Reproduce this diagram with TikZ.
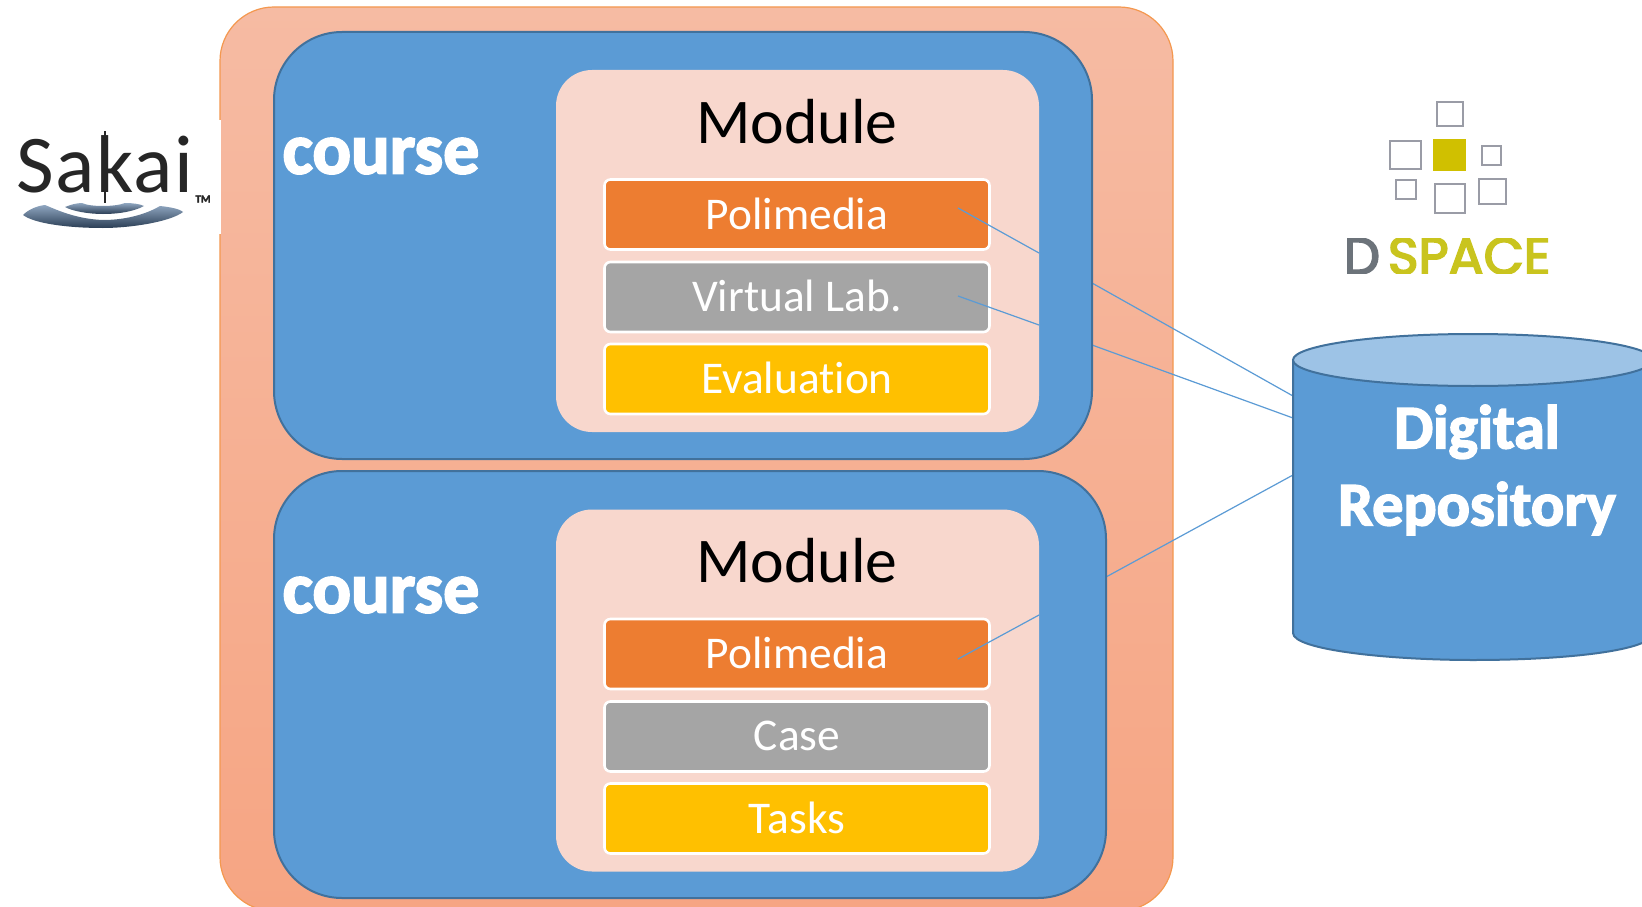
\documentclass[tikz,border=0pt]{standalone}
\usepackage{fontspec}
\setmainfont{Carlito}[Ligatures=NoCommon,BoldFeatures={FakeBold=2.6}]
\newfontfamily\dsfont[FakeBold=3.5]{Poppins}
\newfontfamily\skfont[LetterSpace=2]{Carlito}
\usetikzlibrary{shapes.geometric}
\definecolor{cblue}{HTML}{5B9BD5}
\definecolor{cedge}{HTML}{41719C}
\definecolor{ctop}{HTML}{9DC3E6}
\definecolor{cmod}{HTML}{F8D7CD}
\definecolor{corange}{HTML}{ED7D31}
\definecolor{cgray}{HTML}{A5A5A5}
\definecolor{cyellow}{HTML}{FFC000}
\definecolor{dsy}{HTML}{C9C41E}
\definecolor{dsc}{HTML}{D0C000}
\definecolor{dsg}{HTML}{6C737A}
\definecolor{dsbox}{HTML}{9A9CA6}
\definecolor{ptop}{HTML}{F6BBA3}
\definecolor{pbot}{HTML}{F6A583}
\definecolor{pedge}{HTML}{F4984F}
\definecolor{skdark}{HTML}{2B3E55}
\definecolor{sklite}{HTML}{8FA6C0}
\newcommand{\bartext}[1]{\raisebox{1.8pt}{#1}}
\tikzset{
  box/.style={rectangle,rounded corners=#1,inner sep=0pt,outer sep=0pt},
  coursebox/.style={box=68pt,fill=cblue,draw=cedge,line width=2pt},
  modulebox/.style={box=36pt,fill=cmod,minimum width=483pt,minimum height=362pt},
  bar/.style={box=6pt,draw=white,line width=2.6pt,minimum width=385pt,minimum height=70pt,
     text=white,font=\fontsize{45.4}{45.4}\selectfont},
  modtitle/.style={text=black,font=\fontsize{63.7}{63.7}\selectfont,inner sep=0pt},
  coursetitle/.style={text=white,font=\bfseries\fontsize{72}{72}\selectfont,inner sep=0pt},
  link/.style={draw=cblue,line width=1.2pt},
  dssq/.style={draw=dsbox,line width=1.8pt},
  ripple/.style={top color=sklite,bottom color=skdark}
}
\begin{document}
\begin{tikzpicture}[x=1pt,y=-1pt]
\useasboundingbox (0,0) rectangle (1642,907);
\clip (0,0) rectangle (1642,907);
\fill[white] (0,0) rectangle (1642,907);
% outer panel
\path[top color=ptop,bottom color=pbot,draw=pedge,line width=1.2pt,rounded corners=54pt]
  (220,7) rectangle (1173,911);
% links outside
\coordinate (c1s) at (1092,283); \coordinate (c1t) at (1293,396);
\coordinate (c2s) at (1092,345); \coordinate (c2t) at (1293,418);
\coordinate (c3s) at (1106,577); \coordinate (c3t) at (1293,475);
\draw[link] (c1s) -- (c1t);
\draw[link] (c2s) -- (c2t);
\draw[link] (c3s) -- (c3t);
% courses
\node[coursebox,minimum width=818pt,minimum height=427pt] (course1) at (683,245.5) {};
\node[coursebox,minimum width=832pt,minimum height=427pt] (course2) at (690,684.5) {};
\node[coursetitle] (ct1) at (381,156) {course};
\node[coursetitle] (ct2) at (381,595) {course};
% modules
\node[modulebox] (mod1) at (797.5,251) {};
\node[modulebox] (mod2) at (797.5,690.5) {};
\node[modtitle] (mt1) at (797,122) {Module};
\node[modtitle] (mt2) at (797,561) {Module};
% bars
\node[bar,fill=corange] (b11) at (797,214.5) {\bartext{Polimedia}};
\node[bar,fill=cgray]   (b12) at (797,297) {\bartext{Virtual Lab.}};
\node[bar,fill=cyellow] (b13) at (797,379) {\bartext{Evaluation}};
\node[bar,fill=corange] (b21) at (797,654) {\bartext{Polimedia}};
\node[bar,fill=cgray]   (b22) at (797,736.5) {\bartext{Case}};
\node[bar,fill=cyellow] (b23) at (797,818.5) {\bartext{Tasks}};
% inner links
\coordinate (i1s) at (958,208); \coordinate (i1t) at (1039,253);
\coordinate (i2s) at (958,296); \coordinate (i2t) at (1039,325);
\coordinate (i3s) at (958,659); \coordinate (i3t) at (1039,615);
\draw[link] (i1s) -- (i1t);
\draw[link] (i2s) -- (i2t);
\draw[link] (i3s) -- (i3t);
% cylinder
\draw[fill=cblue,draw=cedge,line width=2pt]
  (1293,360) -- (1293,633) .. controls (1293,650) and (1390,660) .. (1473,660)
  .. controls (1570,660) and (1653,650) .. (1653,633) -- (1653,360) -- cycle;
\draw[fill=ctop,draw=cedge,line width=2pt] (1473,360) ellipse [x radius=180,y radius=26];
\node[coursetitle,align=center,font=\bfseries\fontsize{62}{77}\selectfont] (repo) at (1477,470) {Digital\\Repository};
% Sakai logo
\fill[white] (0,120) rectangle (221,234);
\path[ripple] (23,215) .. controls (28,210) and (36,206) .. (45,205)
  .. controls (55,209) and (75,219) .. (103,220)
  .. controls (130,220) and (150,212) .. (160,206)
  .. controls (170,207) and (180,209) .. (183,212)
  .. controls (170,222) and (130,228) .. (103,228)
  .. controls (70,228) and (35,224) .. (23,215) -- cycle;
\path[ripple] (65,207) .. controls (70,205) and (76,203) .. (82,203)
  .. controls (90,207) and (115,207) .. (125,203)
  .. controls (133,203) and (140,204) .. (144,206)
  .. controls (135,211) and (120,214) .. (103,214)
  .. controls (88,214) and (72,211) .. (65,207) -- cycle;
\node[text=black!85,inner sep=0pt,font=\skfont\fontsize{82}{82}\selectfont] (sakai) at (105,164) {Sakai};
\draw[black!85,line width=2.2pt] (105,131) -- (105,203);
\node[text=black!85,inner sep=0pt,font=\bfseries\fontsize{11}{11}\selectfont] (tm) at (203,199) {TM};
% DSpace logo
\draw[dssq] (1437,102) rectangle (1463,126);
\draw[dssq] (1390,141) rectangle (1421,169);
\fill[dsc] (1433,139) rectangle (1466,171);
\draw[dssq] (1482,146) rectangle (1501,165);
\draw[dssq] (1396,180) rectangle (1416,199);
\draw[dssq] (1435,184) rectangle (1465,213);
\draw[dssq] (1479,179) rectangle (1506,204);
\begin{scope}
\clip (1347,238) rectangle (1549,273);
\node[anchor=west,inner sep=0pt,font=\dsfont\fontsize{52}{52}\selectfont] (dspace) at (1343,256)
  {\textcolor{dsg}{D}\hspace{8pt}\textcolor{dsy}{SPACE}};
\end{scope}
\end{tikzpicture}
\end{document}
